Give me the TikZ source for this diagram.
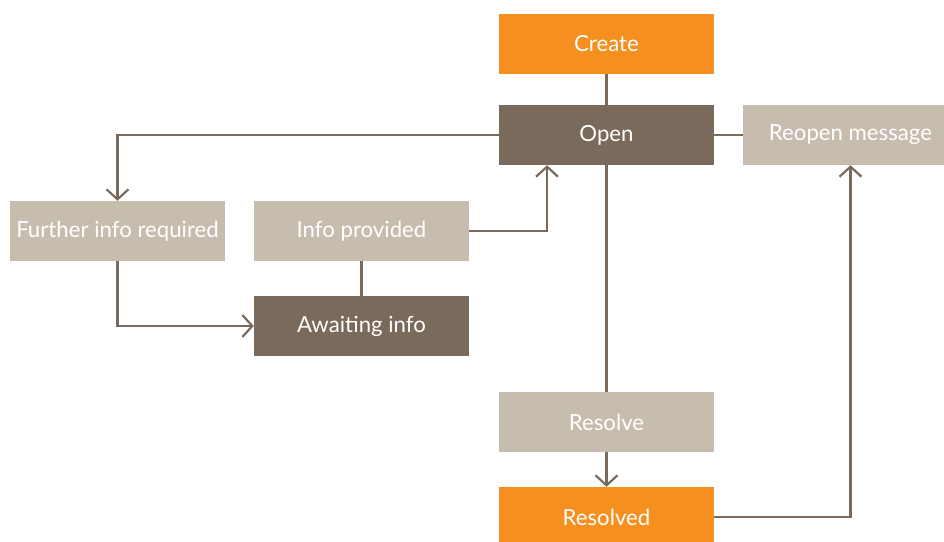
\documentclass[tikz,border=0pt]{standalone}
\usepackage{fontspec}
\setmainfont{Lato}
\usepackage{xcolor}
\definecolor{flowline}{HTML}{7A6A5C}
\definecolor{stateorange}{HTML}{F58F1F}
\definecolor{statedark}{HTML}{7A6A5C}
\definecolor{actionlight}{HTML}{C6BDAF}
\usetikzlibrary{arrows.meta,positioning}

\begin{document}
\begin{tikzpicture}[
    x=1pt, y=-1pt,
    box/.style={rectangle, minimum width=215pt, minimum height=60pt, inner sep=0pt, text=white, font=\fontsize{22.2}{26}\selectfont},
    key/.style={box, fill=stateorange},
    state/.style={box, fill=statedark},
    action/.style={box, fill=actionlight},
    link/.style={draw=flowline, line width=2.2pt},
    go/.style={link, -{Straight Barb[length=10pt,width=22pt,line width=2.2pt]}}
  ]
    \useasboundingbox (0,0) rectangle (944,541);

    % states and actions
    \node[key]    (create)   at (606.5,44)  {Create};
    \node[state]  (open)     at (606.5,135) {Open};
    \node[action] (reopen)   at (850.5,135) {Reopen message};
    \node[action] (further)  at (117.5,231) {Further info required};
    \node[action] (provided) at (361.5,231) {Info provided};
    \node[state]  (awaiting) at (361.5,326) {Awaiting info};
    \node[action] (resolve)  at (606.5,422) {Resolve};
    \node[key]    (resolved) at (606.5,517) {Resolved};

    % connectors
    \draw[link] (create) -- (open);
    \draw[link] (open) -- (reopen);
    \draw[link] (open) -- (resolve);
    \draw[link] (provided) -- (awaiting);
    \draw[go] (open.west) -| (further.north);
    \draw[go] (further.south) |- (awaiting.west);
    \draw[go] (provided.east) -| ([xshift=-59.5pt]open.south);
    \draw[go] (resolve) -- (resolved);
    \draw[go] (resolved.east) -| (reopen.south);
  \end{tikzpicture}
\end{document}
